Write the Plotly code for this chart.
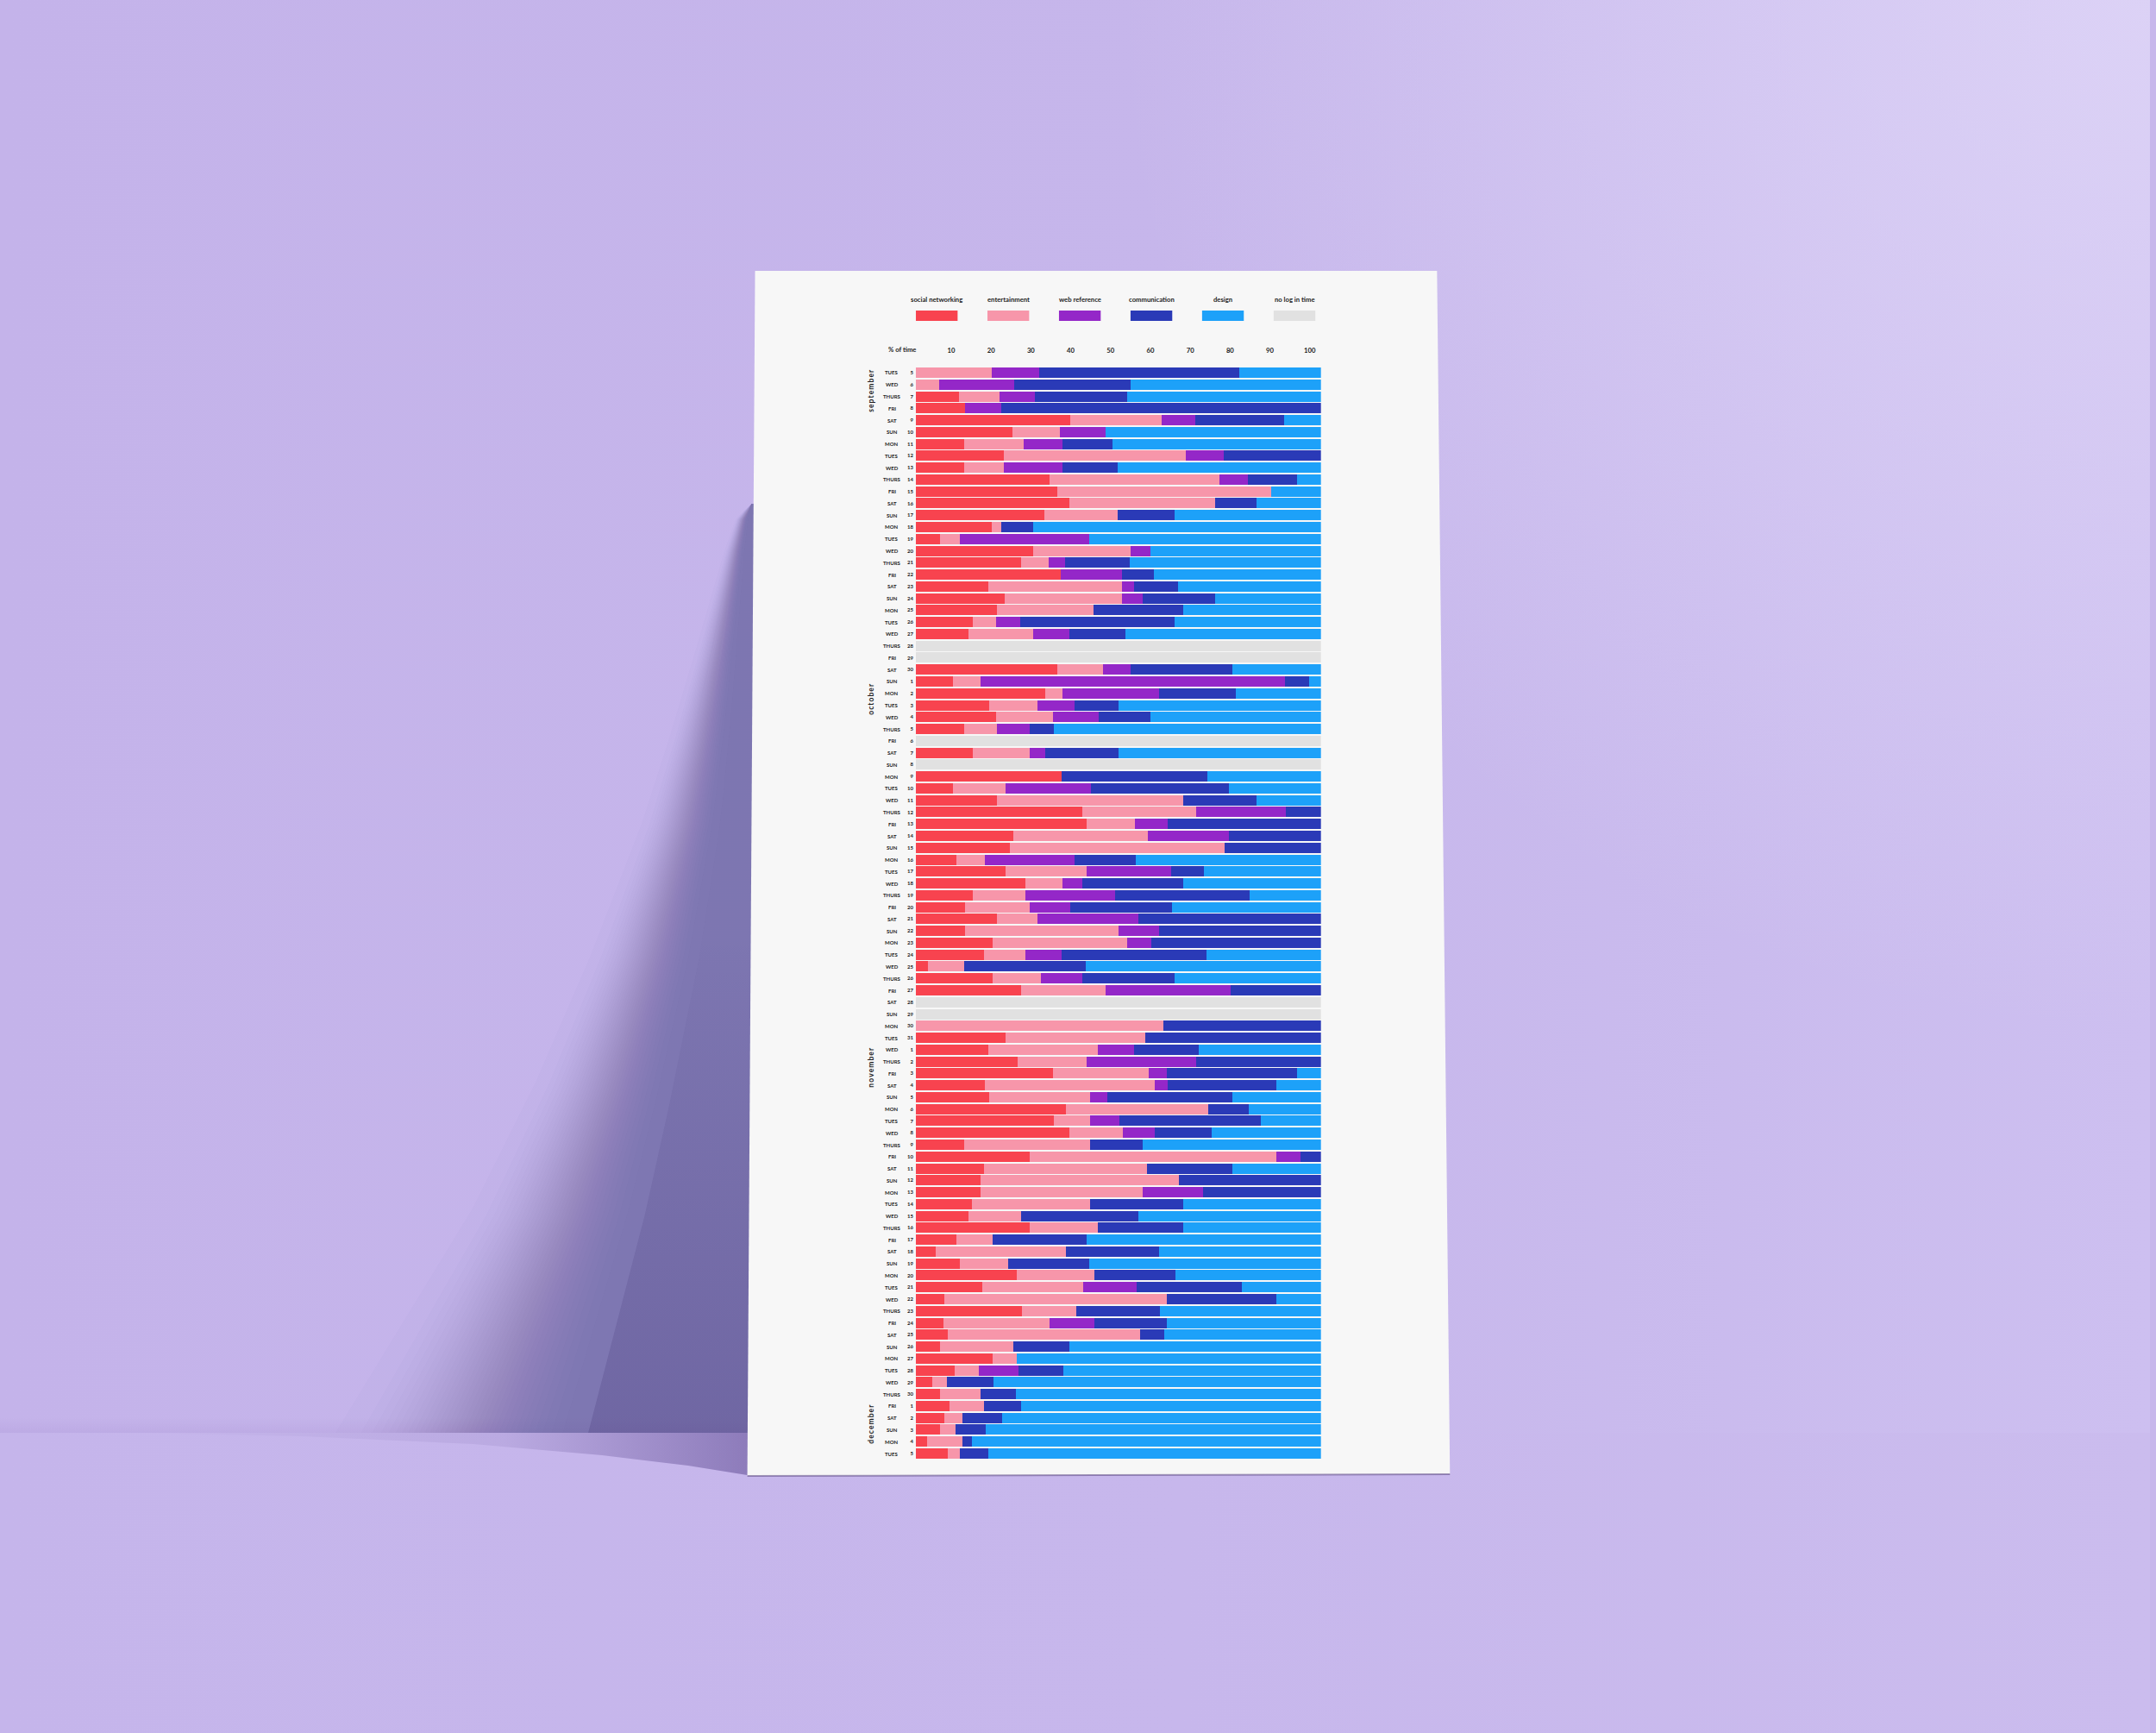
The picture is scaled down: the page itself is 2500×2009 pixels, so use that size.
import numpy as np
import plotly.graph_objects as go

# ---------------- data ----------------
categories = ["social networking", "entertainment", "web reference",
              "communication", "design", "no log in time"]
colors = ["#f8434f", "#f796aa", "#9427c8", "#2a3ab7", "#1da1f9", "#e1e1e1"]

months = ["september", "october", "november", "december"]
month_first_row = [0, 26, 57, 87]

day_names = [
    "TUES", "WED", "THURS", "FRI", "SAT", "SUN", "MON",
    "TUES", "WED", "THURS", "FRI", "SAT", "SUN", "MON",
    "TUES", "WED", "THURS", "FRI", "SAT", "SUN", "MON",
    "TUES", "WED", "THURS", "FRI", "SAT", "SUN", "MON",
    "TUES", "WED", "THURS", "FRI", "SAT", "SUN", "MON",
    "TUES", "WED", "THURS", "FRI", "SAT", "SUN", "MON",
    "TUES", "WED", "THURS", "FRI", "SAT", "SUN", "MON",
    "TUES", "WED", "THURS", "FRI", "SAT", "SUN", "MON",
    "TUES", "WED", "THURS", "FRI", "SAT", "SUN", "MON",
    "TUES", "WED", "THURS", "FRI", "SAT", "SUN", "MON",
    "TUES", "WED", "THURS", "FRI", "SAT", "SUN", "MON",
    "TUES", "WED", "THURS", "FRI", "SAT", "SUN", "MON",
    "TUES", "WED", "THURS", "FRI", "SAT", "SUN", "MON",
    "TUES",
]
day_numbers = [
    "5", "6", "7", "8", "9", "10", "11", "12", "13", "14", "15", "16", "17",
    "18", "19", "20", "21", "22", "23", "24", "25", "26", "27", "28", "29", "30",
    "1", "2", "3", "4", "5", "6", "7", "8", "9", "10", "11", "12", "13", "14",
    "15", "16", "17", "18", "19", "20", "21", "22", "23", "24", "25", "26", "27",
    "28", "29", "30", "31",
    "1", "2", "3", "4", "5", "6", "7", "8", "9", "10", "11", "12", "13", "14",
    "15", "16", "17", "18", "19", "20", "21", "22", "23", "24", "25", "26", "27",
    "28", "29", "30",
    "1", "2", "3", "4", "5",
]

social_networking = [
    0, 0, 10.6, 12.2, 38.1, 23.8, 11.9,
    21.8, 11.9, 32.9, 35.0, 37.9, 31.7, 18.8,
    5.9, 29.0, 26.0, 35.8, 17.9, 21.9, 20.0,
    14.0, 12.9, 0, 0, 35.0, 9.2, 32.0,
    18.0, 19.9, 12.0, 0, 14.0, 0, 36.0,
    9.1, 20.0, 41.1, 42.1, 24.1, 23.1, 10.1,
    22.2, 27.1, 14.0, 12.1, 20.0, 12.1, 19.0,
    16.8, 3.0, 19.0, 26.0, 0, 0, 0,
    22.2, 17.9, 25.1, 33.9, 17.0, 18.1, 37.0,
    34.0, 37.9, 12.0, 28.0, 16.9, 15.9, 15.9,
    13.9, 13.0, 28.0, 10.0, 5.0, 10.9, 24.9,
    16.3, 7.0, 26.1, 6.9, 7.8, 6.0, 18.9,
    9.6, 4.1, 6.0, 8.3, 7.0, 6.0, 2.8,
    7.8,
]
entertainment = [
    18.7, 5.7, 10.0, 0, 22.6, 11.8, 14.7,
    44.9, 9.9, 42.0, 52.8, 36.0, 18.1, 2.2,
    4.9, 24.0, 6.7, 0, 32.9, 29.0, 23.8,
    5.9, 16.0, 0, 0, 11.1, 6.8, 4.1,
    12.0, 14.0, 8.0, 0, 14.1, 0, 0,
    13.0, 46.1, 28.1, 12.0, 33.1, 53.2, 7.0,
    19.9, 9.0, 13.1, 16.1, 10.1, 37.9, 33.1,
    10.2, 9.0, 11.8, 20.9, 0, 0, 61.1,
    34.5, 27.1, 17.1, 23.5, 42.0, 25.0, 35.1,
    9.1, 13.1, 31.0, 60.9, 40.1, 49.1, 40.1,
    29.1, 13.0, 17.0, 9.0, 32.0, 11.9, 19.1,
    25.1, 54.9, 13.4, 26.0, 47.6, 18.0, 6.0,
    6.0, 3.5, 10.0, 8.6, 4.4, 3.7, 8.6,
    3.1,
]
web_reference = [
    11.8, 18.5, 8.8, 8.8, 8.2, 11.2, 9.5,
    9.4, 14.4, 7.1, 0, 0, 0, 0,
    31.9, 5.0, 4.2, 15.0, 3.0, 5.0, 0,
    5.8, 8.9, 0, 0, 7.0, 75.2, 24.0,
    9.1, 11.2, 8.0, 0, 3.9, 0, 0,
    21.1, 0, 22.1, 8.1, 20.0, 0, 22.0,
    21.0, 5.0, 22.0, 9.9, 24.9, 10.1, 6.1,
    8.9, 0, 10.2, 30.9, 0, 0, 0,
    0, 8.9, 27.0, 4.6, 3.1, 4.2, 0,
    7.1, 8.0, 0, 6.1, 0, 0, 15.0,
    0, 0, 0, 0, 0, 0, 0,
    13.0, 0, 0, 11.2, 0, 0, 0,
    9.8, 0, 0, 0, 0, 0, 0,
    0,
]
communication = [
    49.3, 28.8, 22.7, 79.0, 22.1, 0, 12.4,
    23.9, 13.7, 12.0, 0, 10.1, 14.0, 8.0,
    0, 0, 16.0, 8.0, 11.0, 18.0, 22.1,
    38.1, 14.0, 0, 0, 25.1, 5.9, 18.9,
    10.9, 12.9, 6.0, 0, 18.1, 0, 36.0,
    34.0, 18.0, 8.7, 37.8, 22.8, 23.7, 15.1,
    8.1, 24.9, 33.2, 25.1, 45.0, 39.9, 41.8,
    35.8, 30.0, 22.9, 22.2, 0, 0, 38.9,
    43.3, 16.0, 30.8, 32.0, 26.9, 30.9, 10.0,
    34.9, 14.0, 13.0, 5.0, 21.1, 35.0, 29.0,
    23.0, 29.0, 21.0, 23.1, 23.0, 20.0, 20.0,
    26.0, 27.1, 20.8, 17.9, 6.0, 14.0, 0,
    11.1, 11.5, 8.6, 9.0, 9.9, 7.5, 2.4,
    7.0,
]
design = [
    20.2, 47.0, 47.9, 0, 9.0, 53.2, 51.5,
    0, 50.1, 6.0, 12.2, 16.0, 36.2, 71.0,
    57.3, 42.0, 47.1, 41.2, 35.2, 26.1, 34.1,
    36.2, 48.2, 0, 0, 21.8, 2.9, 21.0,
    50.0, 42.0, 66.0, 0, 49.9, 0, 28.0,
    22.8, 15.9, 0, 0, 0, 0, 45.8,
    28.8, 34.0, 17.7, 36.8, 0, 0, 0,
    28.3, 58.0, 36.1, 0, 0, 0, 0,
    0, 30.1, 0, 6.0, 11.0, 21.8, 17.9,
    14.9, 27.0, 44.0, 0, 21.9, 0, 0,
    34.0, 45.0, 34.0, 57.9, 40.0, 57.2, 36.0,
    19.6, 11.0, 39.7, 38.0, 38.6, 62.0, 75.1,
    63.5, 80.9, 75.4, 74.1, 78.7, 82.8, 86.2,
    82.1,
]
no_log_in_time = [
    0, 0, 0, 0, 0, 0, 0,
    0, 0, 0, 0, 0, 0, 0,
    0, 0, 0, 0, 0, 0, 0,
    0, 0, 100, 100, 0, 0, 0,
    0, 0, 0, 100, 0, 100, 0,
    0, 0, 0, 0, 0, 0, 0,
    0, 0, 0, 0, 0, 0, 0,
    0, 0, 0, 0, 100, 100, 0,
    0, 0, 0, 0, 0, 0, 0,
    0, 0, 0, 0, 0, 0, 0,
    0, 0, 0, 0, 0, 0, 0,
    0, 0, 0, 0, 0, 0, 0,
    0, 0, 0, 0, 0, 0, 0,
    0,
]
series = [social_networking, entertainment, web_reference,
          communication, design, no_log_in_time]

axis_ticks = [10, 20, 30, 40, 50, 60, 70, 80, 90, 100]

# ---------------- figure ----------------
W, H = 2500, 2009
FONT = "Lato"
INK = "#1e1e1e"
fig = go.Figure()

def deco(x, y, **kw):
    fig.add_trace(go.Scatter(x=x, y=y, mode="lines", fill="toself",
                             line=dict(width=0), hoverinfo="skip",
                             showlegend=False, xaxis="x", yaxis="y", **kw))

FLOOR = 1661
# wall
deco([0, W, W, 0, 0], [0, 0, FLOOR, FLOOR, 0],
     fillgradient=dict(type="horizontal",
                       colorscale=[[0, "#c4b3ea"], [0.55, "#c6b6eb"], [1, "#cdbff0"]]))
# soft light top-right
deco([1300, 3700, 3700, 1300, 1300], [-1200, -1200, 1200, 1200, -1200],
     fillgradient=dict(type="radial",
                       colorscale=[[0, "rgba(228,220,249,0.65)"], [1, "rgba(228,220,249,0)"]]))
# floor
deco([0, W, W, 0, 0], [FLOOR, FLOOR, H, H, FLOOR],
     fillgradient=dict(type="horizontal",
                       colorscale=[[0, "#c5b5eb"], [0.55, "#c7b7ec"], [1, "#cbbcee"]]))
# contact shade above floor line
deco([0, 869, 869, 0, 0], [FLOOR - 18, FLOOR - 18, FLOOR, FLOOR, FLOOR - 18],
     fillgradient=dict(type="vertical", start=FLOOR - 18, stop=FLOOR,
                       colorscale=[[0, "rgba(90,60,150,0)"], [1, "rgba(90,60,150,0.07)"]]))

# cast shadow on wall (many faint layers -> soft edge)
cy = [584, 600, 630, 680, 750, 850, 950, 1100, 1250, 1400, 1530, FLOOR]
cin = [874, 870, 866, 862, 857, 848, 838, 815, 785, 752, 718, 684]
cout = [874, 856, 845, 830, 810, 780, 748, 690, 625, 550, 470, 390]
ys = np.linspace(584, FLOOR, 120)
xin = np.interp(ys, cy, cin)
xout = np.interp(ys, cy, cout)
N = 36
for k in range(N):
    q = k / (N - 1)
    t = 0.5 - np.sin(np.arcsin(1 - 2 * q) / 3)   # inverse smoothstep -> smooth falloff
    xe = xout + (xin - xout) * t
    px = list(xe) + [895, 895, xe[0]]
    py = list(ys) + [FLOOR, 584, ys[0]]
    deco(px, py, fillcolor="rgba(52,32,104,0.0165)")
# deeper shade toward the floor
s = 55
px = list(xin[s:]) + [895, 895, xin[s]]
py = list(ys[s:]) + [FLOOR, ys[s], ys[s]]
deco(px, py, fillgradient=dict(type="vertical", start=float(ys[s]), stop=FLOOR,
                                colorscale=[[0, "rgba(40,22,90,0)"], [1, "rgba(40,22,90,0.16)"]]))
# shadow on floor
deco([150, 350, 550, 700, 800, 875, 875, 150],
     [FLOOR, FLOOR + 4, FLOOR + 13, FLOOR + 26, FLOOR + 38, FLOOR + 50, FLOOR, FLOOR],
     fillgradient=dict(type="horizontal",
                       colorscale=[[0, "rgba(70,50,125,0)"], [0.6, "rgba(70,50,125,0.09)"],
                                   [1, "rgba(70,50,125,0.45)"]]))
# poster sheet
deco([878, 1671, 1686, 869, 878], [314, 314, 1709, 1711, 314], fillcolor="#f7f7f7")
fig.add_trace(go.Scatter(x=[869, 1686], y=[1711, 1709], mode="lines",
                         line=dict(color="rgba(90,70,130,0.55)", width=2),
                         hoverinfo="skip", showlegend=False, xaxis="x", yaxis="y"))

# stacked bars
rows = list(range(len(day_names)))
for name, col, vals in zip(categories, colors, series):
    fig.add_trace(go.Bar(x=vals, y=rows, orientation="h", name=name,
                         marker=dict(color=col, line=dict(width=0)),
                         xaxis="x2", yaxis="y2", showlegend=False,
                         hovertemplate="%{x}%<extra>" + name + "</extra>"))

# dummy trace for the label axis on top
fig.add_trace(go.Scatter(x=[], y=[], xaxis="x3", yaxis="y3", showlegend=False))

annotations = []
shapes = []
# legend (custom)
for i, (name, col) in enumerate(zip(categories, colors)):
    x0 = 1065 + i * 83.2
    shapes.append(dict(type="rect", xref="x", yref="y", x0=x0, x1=x0 + 48.5,
                       y0=360, y1=372, fillcolor=col, line=dict(width=0)))
    annotations.append(dict(xref="x", yref="y", x=x0 + 24.25, y=347, text=name,
                            showarrow=False, xanchor="center", yanchor="middle",
                            font=dict(family=FONT, size=7.7, color=INK, weight=700)))
annotations.append(dict(xref="x", yref="y", x=1049, y=405, text="% of time",
                        showarrow=False, xanchor="center", yanchor="middle",
                        font=dict(family=FONT, size=7.7, color=INK, weight=700)))
# day names
for r, dn in zip(rows, day_names):
    annotations.append(dict(xref="paper", yref="y2", x=1037 / W, y=r, text=dn,
                            showarrow=False, xanchor="center", yanchor="middle",
                            font=dict(family=FONT, size=6, color=INK, weight=700)))
# months (read bottom to top)
for m, r0 in zip(months, month_first_row):
    annotations.append(dict(xref="paper", yref="y2", x=1012 / W, y=r0 + 1.5,
                            text="\u2009".join(m), textangle=-90, showarrow=False,
                            xanchor="center", yanchor="middle",
                            font=dict(family=FONT, size=8.5, color=INK, weight=700)))

y_top, y_bot = 425.1, 1691.9
fig.update_layout(
    width=W, height=H, margin=dict(l=0, r=0, t=0, b=0),
    paper_bgcolor="#c7b7eb", plot_bgcolor="rgba(0,0,0,0)",
    barmode="stack", bargap=0.13, showlegend=False,
    xaxis=dict(domain=[0, 1], range=[0, W], visible=False, fixedrange=True),
    yaxis=dict(domain=[0, 1], range=[H, 0], visible=False, fixedrange=True),
    xaxis2=dict(domain=[1065 / W, 1536 / W], range=[0, 100], anchor="y2",
                showgrid=False, zeroline=False, showticklabels=False, showline=False),
    yaxis2=dict(domain=[(H - y_bot) / H, (H - y_top) / H], range=[len(rows) - 0.5, -0.5],
                anchor="x2", tickmode="array", tickvals=rows, ticktext=day_numbers,
                ticks="", showgrid=False, zeroline=False, showline=False,
                ticklabelstandoff=2,
                tickfont=dict(family=FONT, size=6, color=INK, weight=700)),
    xaxis3=dict(domain=[1059.7 / W, 1523 / W], range=[0, 100], anchor="y3", side="top",
                tickmode="array", tickvals=axis_ticks, ticktext=[str(v) for v in axis_ticks],
                ticks="", showgrid=False, zeroline=False, showline=False,
                ticklabelstandoff=0,
                tickfont=dict(family=FONT, size=7.7, color=INK, weight=700)),
    yaxis3=dict(domain=[(H - 420) / H, (H - 412) / H], visible=False, range=[0, 1]),
    annotations=annotations, shapes=shapes,
)

fig.write_html("out.html")
